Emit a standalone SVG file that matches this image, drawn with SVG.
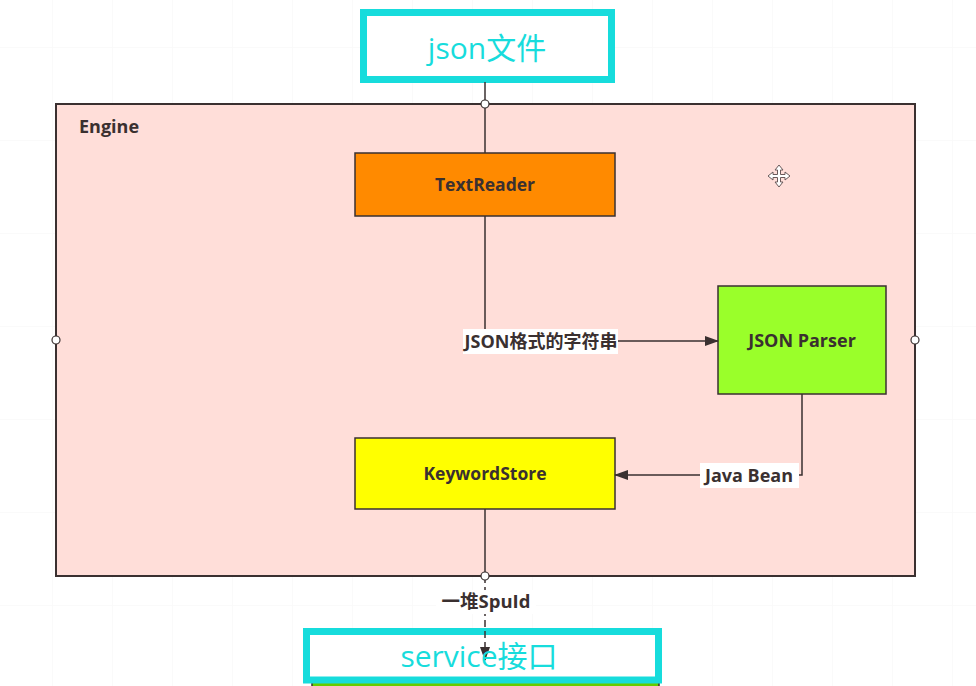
<svg xmlns="http://www.w3.org/2000/svg" width="976" height="686" viewBox="0 0 976 686">
<defs>
<style>
.lbl{font-family:"Open Sans","Noto Sans CJK SC",sans-serif;font-weight:bold;fill:#3a3030;text-anchor:middle}
.cy{font-family:"Open Sans","Noto Sans CJK SC",sans-serif;fill:#17dcdc;text-anchor:middle}
.node{stroke:#3a3030;stroke-width:1.5}
.ln{stroke:#3a3030;stroke-width:1.5;fill:none}
.pt{fill:#fff;stroke:#3a3030;stroke-width:1.2}
.grid{stroke:#f6f6f6;stroke-width:1}
</style>
<marker id="arr" markerWidth="14" markerHeight="10" refX="13" refY="5" orient="auto" markerUnits="userSpaceOnUse">
<path d="M0,0 L14,5 L0,10 Z" fill="#3a3030"/>
</marker>
<pattern id="g" x="52" y="47" width="60" height="93" patternUnits="userSpaceOnUse">
<path d="M0,0 V93 M0,0 H60" class="grid"/>
</pattern>
</defs>
<rect width="976" height="686" fill="#fff"/>
<rect width="976" height="686" fill="url(#g)"/>

<g id="engine">
<rect x="56" y="104" width="859" height="472" fill="#ffded9" stroke="#3a3030" stroke-width="2"/>
<text x="79" y="133" class="lbl" style="text-anchor:start;font-size:18px">Engine</text>
</g>

<g id="json-file">
<rect x="363.5" y="12.5" width="248" height="67" fill="#fff" stroke="#17dcdc" stroke-width="7"/>
<text x="487" y="59" class="cy" style="font-size:30px">json文件</text>
</g>

<g id="textreader">
<rect x="355" y="153" width="260" height="63" fill="#ff8a00" class="node"/>
<text x="485" y="191" class="lbl" style="font-size:17.5px">TextReader</text>
</g>

<g id="jsonparser">
<rect x="718" y="286" width="168" height="108" fill="#9aff2a" class="node"/>
<text x="802" y="347" class="lbl" style="font-size:18px">JSON Parser</text>
</g>

<g id="keywordstore">
<rect x="355" y="438" width="260" height="71" fill="#ffff00" class="node"/>
<text x="485" y="480" class="lbl" style="font-size:17.5px">KeywordStore</text>
</g>

<g id="bottom-node">
<rect x="312" y="682" width="347" height="8" fill="#66cc00" stroke="#3a3030" stroke-width="1.5"/>
</g>

<g id="service">
<rect x="306.5" y="631.5" width="352" height="48.5" fill="#fff" stroke="#17dcdc" stroke-width="7"/>
</g>

<g id="connectors">
<line x1="485" y1="82" x2="485" y2="153" class="ln"/>
<polyline points="485,216 485,341 718,341" class="ln" marker-end="url(#arr)"/>
<rect x="463" y="329" width="155" height="25" fill="#fff"/>
<text x="541" y="348" class="lbl" style="font-size:18px">JSON格式的字符串</text>
<polyline points="802,394 802,475 615,475" class="ln" marker-end="url(#arr)"/>
<rect x="700" y="463" width="99" height="25" fill="#fff"/>
<text x="749" y="482" class="lbl" style="font-size:18px">Java Bean</text>
<line x1="485" y1="509" x2="485" y2="576" class="ln"/>
<line x1="485" y1="576" x2="485" y2="660" class="ln" stroke-dasharray="7,4" marker-end="url(#arr)"/>
<rect x="436" y="590" width="100" height="24" fill="#fff"/>
<text x="486" y="608" class="lbl" style="font-size:18.5px">一堆SpuId</text>
<circle cx="485" cy="104" r="4" class="pt"/>
<circle cx="56" cy="340" r="4" class="pt"/>
<circle cx="915" cy="340" r="4" class="pt"/>
<circle cx="485" cy="576" r="4" class="pt"/>
</g>

<g id="service-label">
<text x="479" y="667" class="cy" style="font-size:30px">service接口</text>
</g>

<g id="move-icon" transform="translate(779,176)">
<path d="M0,-11 L4,-6 L1.5,-6 L1.5,-1.5 L6,-1.5 L6,-4 L11,0 L6,4 L6,1.5 L1.5,1.5 L1.5,6 L4,6 L0,11 L-4,6 L-1.5,6 L-1.5,1.5 L-6,1.5 L-6,4 L-11,0 L-6,-4 L-6,-1.5 L-1.5,-1.5 L-1.5,-6 L-4,-6 Z" fill="#fff" stroke="#6a5a5a" stroke-width="1"/>
</g>
</svg>
